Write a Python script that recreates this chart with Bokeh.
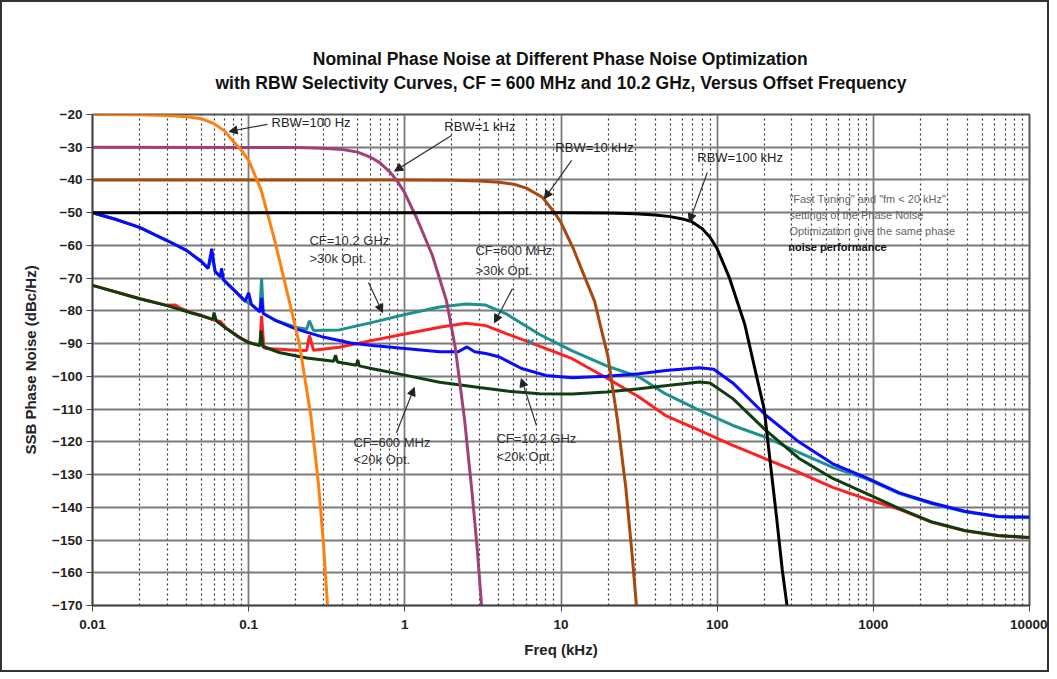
from bokeh.plotting import figure
from bokeh.models import FixedTicker, CustomJSTickFormatter, Title, Arrow, NormalHead
from bokeh.core.properties import value
from bokeh.embed import file_html
from bokeh.resources import INLINE

FONT = "Liberation Sans"

# ---------------- data ----------------
# RBW selectivity curves
rbw100_f = [0.01, 0.02, 0.03, 0.04, 0.05, 0.06, 0.07, 0.079, 0.09, 0.1, 0.12, 0.146, 0.18, 0.211, 0.25, 0.28, 0.3, 0.32]
rbw100_db = [-20, -20.1, -20.3, -20.7, -21.3, -22.8, -25, -28, -31, -34, -43, -58, -76, -90, -112, -133, -150, -170]

rbw1k_f = [0.01, 0.2, 0.3, 0.4, 0.5, 0.6, 0.69, 0.8, 0.9, 1.0, 1.2, 1.5, 1.85, 2.1, 2.41, 2.7, 2.9, 3.1]
rbw1k_db = [-30, -30.1, -30.3, -30.7, -31.5, -33, -34.7, -37.5, -40.5, -44, -52, -63, -77, -91, -113, -136, -152, -170]

rbw10k_f = [0.01, 1, 2, 3, 4, 5, 6, 7.6, 9.1, 10, 12, 14, 16.4, 18.2, 20, 23, 26, 28.6, 30.4]
rbw10k_db = [-40, -40, -40.1, -40.3, -40.7, -41.3, -42.5, -45.3, -50, -53, -61, -69, -77, -86, -94, -113.5, -134, -155, -170]

rbw100k_f = [0.01, 10, 20, 30, 40, 50, 60, 68.4, 80, 90, 100, 120, 150, 175, 200, 216, 240, 261, 280]
rbw100k_db = [-50, -50, -50.1, -50.3, -50.7, -51.2, -51.9, -52.7, -54.8, -57.5, -61, -70, -84, -98, -110, -124, -143, -159, -170]

# Phase noise curves
blue_f = [0.01, 0.014, 0.02, 0.03, 0.04, 0.05, 0.055, 0.058, 0.061, 0.066, 0.067, 0.069, 0.08, 0.095, 0.1, 0.104,
          0.118, 0.121, 0.124, 0.15, 0.2, 0.3, 0.45, 0.62, 1.0, 1.67, 2.2, 2.5, 2.8, 3.3, 4.0, 5.6, 8.0, 11.8,
          19.6, 31.6, 47, 77, 95, 126, 204, 333, 550, 906, 1470, 2380, 3850, 6300, 10000]
blue_db = [-50, -52, -54.5, -58.5, -61.5, -65, -67, -61, -68, -69.5, -67, -70.5, -73.5, -77, -74.5, -78,
           -80.3, -76, -80.8, -83, -85.5, -88, -89.8, -90.6, -91.5, -92.5, -92.5, -91, -92.5, -93, -94, -97.6, -99.7, -100.4,
           -100, -99.2, -98.2, -97.4, -97.8, -102, -111.8, -120, -126.7, -131, -135.6, -138.7, -141.2, -142.8, -143]

teal_f = [0.01, 0.014, 0.02, 0.03, 0.04, 0.05, 0.055, 0.058, 0.061, 0.069, 0.08, 0.095, 0.104, 0.118, 0.121,
          0.124, 0.15, 0.2, 0.235, 0.245, 0.26, 0.38, 0.62, 1.02, 1.67, 2.46, 3.3, 4.5, 7.3, 11.8, 19.6, 31.6,
          46.5, 77, 126, 204, 333, 550, 906, 1470, 2380, 3850, 6300, 10000]
teal_db = [-50, -52, -54.5, -58.5, -61.5, -65, -67, -63, -68, -70.5, -73.5, -77, -78, -80.3, -70,
           -80.8, -83, -85, -85.6, -83, -86, -85.8, -83.5, -81, -78.8, -77.9, -78.2, -81, -87.2, -92.2, -96.8, -100.2,
           -105.3, -110.4, -115, -118.6, -123.2, -127.8, -131.3, -135.8, -138.9, -141.4, -142.9, -143.2]

red_f = [0.01, 0.02, 0.03, 0.034, 0.036, 0.042, 0.05, 0.06, 0.066, 0.068, 0.072, 0.087, 0.1, 0.118, 0.121,
         0.125, 0.13, 0.2, 0.235, 0.245, 0.26, 0.38, 0.62, 1.02, 1.67, 2.46, 3.3, 4.5, 6.3, 11.8, 19.6, 31.6,
         46.5, 77, 126, 204, 333, 550, 906, 1470, 2380, 3850, 6300, 10000]
red_db = [-72.2, -76.2, -78.3, -78.2, -79, -80.4, -81.4, -82.8, -83.2, -84, -85.3, -88, -89.6, -90.5, -81.5,
          -91.2, -91.5, -92, -92.1, -87.5, -92, -91.1, -89, -87, -85, -83.8, -84.5, -87, -89.6, -94.6, -100.5, -106.3,
          -111.9, -116.5, -121.1, -125.2, -129.3, -133.9, -137.5, -140.6, -144.6, -147.2, -148.7, -149.3]

green_f = [0.01, 0.02, 0.03, 0.042, 0.05, 0.059, 0.06, 0.062, 0.072, 0.087, 0.1, 0.118, 0.12, 0.123, 0.157,
           0.235, 0.35, 0.36, 0.37, 0.49, 0.5, 0.51, 0.62, 1.02, 1.67, 3.0, 4.5, 7.3, 11.8, 19.6, 31.6, 46.5,
           77, 90, 126, 204, 333, 550, 906, 1470, 2380, 3850, 6300, 10000]
green_db = [-72.2, -76.3, -78.4, -80.5, -81.5, -82.6, -80.5, -83, -85.4, -88.1, -89.7, -90.6, -86, -90.8, -92.7,
            -94.4, -95.4, -93.5, -95.6, -96.6, -95, -96.8, -97.7, -99.7, -101.8, -103.4, -104.5, -105.3, -105.4, -104.8, -103.8, -102.9,
            -101.7, -102, -106.8, -116.4, -125, -131.2, -135.8, -140.4, -144.5, -147.1, -148.6, -149.2]

marker_f = [6.4]
marker_db = [-89.6]

# axes
x_ticks = [0.01, 0.1, 1, 10, 100, 1000, 10000]
y_ticks = [-170, -160, -150, -140, -130, -120, -110, -100, -90, -80, -70, -60, -50, -40, -30, -20]

# annotations
rbw_label_text = ["RBW=100 Hz", "RBW=1 kHz", "RBW=10 kHz", "RBW=100 kHz"]
rbw_label_f = [0.14, 1.79, 9.2, 74.6]
rbw_label_db = [-22.4, -23.7, -30.0, -33.1]
rbw_arrows = [  # (f_start, db_start, f_end, db_end)
    (0.132, -23.0, 0.075, -25.2),
    (1.99, -26.4, 0.86, -37.3),
    (11.7, -34.0, 7.83, -45.7),
    (86.5, -37.7, 66.4, -52.8),
]

cf_label_text = ["CF=10.2 GHz", ">30k Opt.", "CF=600 MHz", ">30k Opt.",
                 "CF=600 MHz", "<20k Opt.", "CF=10.2 GHz", "<20k Opt."]
cf_label_f = [0.245, 0.245, 2.83, 2.83, 0.469, 0.469, 3.86, 3.86]
cf_label_db = [-58.5, -64.0, -61.6, -67.7, -120.2, -125.4, -119.0, -124.5]
cf_arrows = [
    (0.585, -71.3, 0.72, -80.5),
    (4.89, -73.2, 3.75, -83.6),
    (0.884, -117.2, 1.15, -103.4),
    (6.97, -115.0, 5.57, -100.7),
]

note_lines = ['"Fast Tuning" and "fm < 20 kHz"', "settings of the Phase Noise",
              "Optimization give the same phase", "noise performance"]
note_f = [290, 290, 290, 285]
note_db = [-45.7, -50.6, -55.5, -60.4]

title_line1 = "Nominal Phase Noise at Different Phase Noise Optimization"
title_line2 = "with RBW Selectivity Curves, CF = 600 MHz and 10.2 GHz, Versus Offset Frequency"

# ---------------- figure ----------------
p = figure(frame_width=937, frame_height=491, x_axis_type="log",
           x_range=(0.01, 10000), y_range=(-170, -20),
           min_border_left=90, min_border_right=18, min_border_top=112, min_border_bottom=65,
           output_backend="svg", toolbar_location=None, title=None,
           background_fill_color="white", border_fill_color="white")

# multi-line title: lines are left-aligned inside the block, so the shorter
# first line is indented with non-breaking spaces to appear centred
pad = "\u00a0" * 20
p.add_layout(Title(text=pad + title_line1 + "\n" + title_line2, align="center", text_font=FONT,
                   text_font_size="17.5px", text_font_style="bold", text_color="#111",
                   standoff=44, text_line_height=1.2), "above")

minor = [k * 10.0 ** e for e in range(-2, 4) for k in range(2, 10)]
p.xaxis.ticker = FixedTicker(ticks=x_ticks, minor_ticks=minor)
p.xaxis.formatter = CustomJSTickFormatter(code="return String(Number(tick.toPrecision(6)));")
p.yaxis.ticker = FixedTicker(ticks=y_ticks)

for ax in (p.xaxis, p.yaxis):
    ax.major_label_text_font = FONT
    ax.major_label_text_font_style = "bold"
    ax.major_label_text_font_size = "13.5px"
    ax.major_label_text_color = "#222"
    ax.axis_label_text_font = FONT
    ax.axis_label_text_font_style = "bold"
    ax.axis_label_text_font_size = "15px"
    ax.axis_label_text_color = "#222"
    ax.minor_tick_line_color = None
    ax.major_tick_out = 6
    ax.major_tick_in = 0
    ax.major_tick_line_color = "#444"
    ax.axis_line_color = "#444"
    ax.axis_line_width = 1.5

p.xaxis.axis_label = "Freq (kHz)"
p.yaxis.axis_label = "SSB Phase Noise (dBc/Hz)"
p.xaxis.axis_label_standoff = 9
p.yaxis.axis_label_standoff = 10
p.xaxis.major_label_standoff = 8
p.yaxis.major_label_standoff = 4

p.xgrid.grid_line_color = "#7a7a7a"
p.xgrid.grid_line_width = 1.8
p.ygrid.grid_line_color = "#7a7a7a"
p.ygrid.grid_line_width = 1.8
p.xgrid.minor_grid_line_color = "#333333"
p.xgrid.minor_grid_line_dash = "2 3"
p.xgrid.minor_grid_line_width = 1.2
p.outline_line_color = "#555"
p.outline_line_width = 2

# phase-noise traces
p.line(teal_f, teal_db, line_color="#1f9090", line_width=3)
p.line(red_f, red_db, line_color="#ff2020", line_width=3)
p.line(blue_f, blue_db, line_color="#0a0aff", line_width=3)
p.line(green_f, green_db, line_color="#0f3d10", line_width=3)
p.scatter(marker_f, marker_db, marker="x", size=8, line_color="#1f9090", line_width=2)

# RBW selectivity curves
p.line(rbw10k_f, rbw10k_db, line_color="#a8480f", line_width=3)
p.line(rbw1k_f, rbw1k_db, line_color="#a0407a", line_width=3)
p.line(rbw100_f, rbw100_db, line_color="#ff8010", line_width=3)
p.line(rbw100k_f, rbw100k_db, line_color="#000000", line_width=3)

# annotations
for (x0, y0, x1, y1) in rbw_arrows + cf_arrows:
    p.add_layout(Arrow(end=NormalHead(size=8, fill_color="#222", line_color="#222", line_width=1),
                       x_start=x0, y_start=y0, x_end=x1, y_end=y1,
                       line_color="#333", line_width=1.2))

p.text(rbw_label_f, rbw_label_db, text=rbw_label_text, text_font=value(FONT),
       text_font_size="13px", text_color="#222", text_align="left", text_baseline="middle")
p.text(cf_label_f, cf_label_db, text=cf_label_text, text_font=value(FONT),
       text_font_size="13px", text_color="#333", text_align="left", text_baseline="middle")
p.text(note_f[:3], note_db[:3], text=note_lines[:3], text_font=value(FONT),
       text_font_size="11px", text_color="#666", text_align="left", text_baseline="middle")
p.text(note_f[3:], note_db[3:], text=note_lines[3:], text_font=value(FONT),
       text_font_size="11px", text_color="#111", text_font_style="bold",
       text_align="left", text_baseline="middle")

p.styles = {"border": "2px solid #333"}

open("out.html", "w").write(file_html(p, INLINE))
